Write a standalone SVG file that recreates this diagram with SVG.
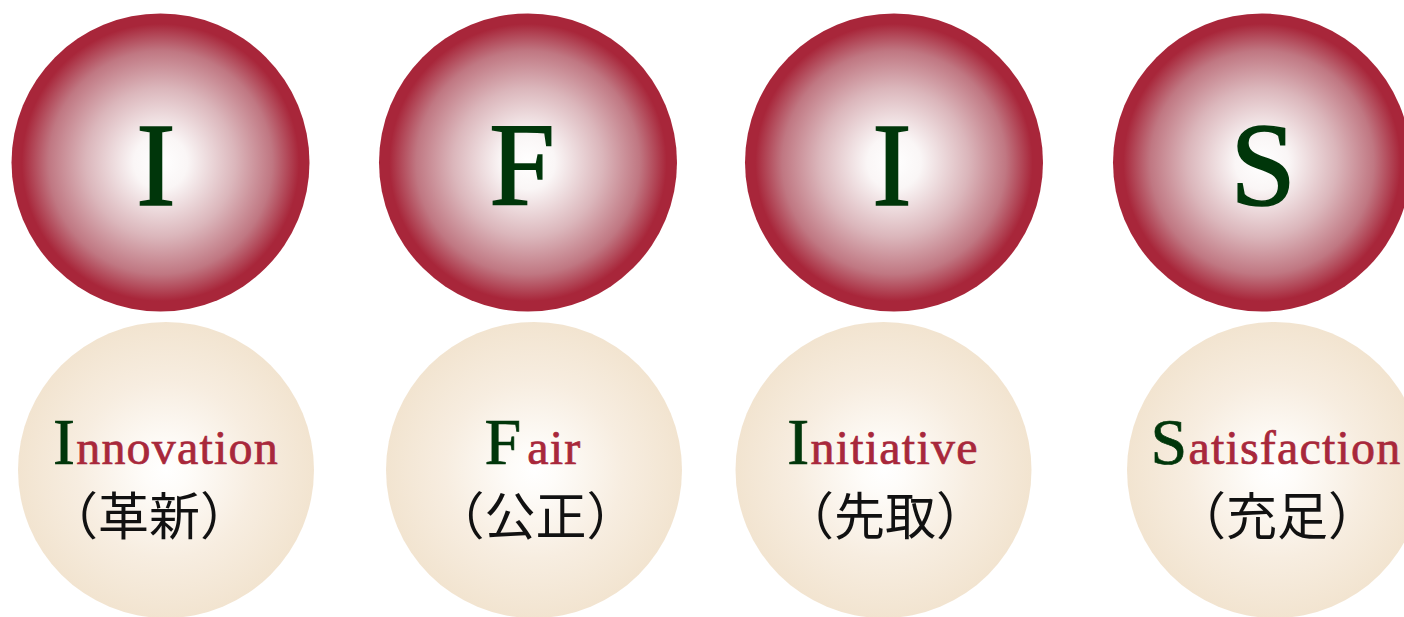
<svg xmlns="http://www.w3.org/2000/svg" width="1404" height="617" viewBox="0 0 1404 617">
<style>
.big{font-family:"Liberation Serif","Times New Roman",serif;font-size:118px;fill:#00360a;stroke:#00360a;stroke-width:1.6px;text-anchor:middle}
.word{font-family:"Liberation Serif","Times New Roman",serif;font-size:48px;fill:#a8283b;stroke:#a8283b;stroke-width:0.7px;text-anchor:middle;letter-spacing:1.2px}
.cap{fill:#00360a;stroke:#00360a;font-size:66px}
.kanji{font-family:"Noto Sans CJK JP","Noto Sans CJK SC",sans-serif;font-size:51px;fill:#111;text-anchor:middle}
</style>
<defs>
<radialGradient id="red" cx="0.5" cy="0.5" r="0.5">
<stop offset="0" stop-color="#ffffff"/>
<stop offset="0.18" stop-color="#faf6f6"/>
<stop offset="0.5" stop-color="#dbb6bb"/>
<stop offset="0.75" stop-color="#c07782"/>
<stop offset="0.93" stop-color="#a8263a"/>
<stop offset="1" stop-color="#a8263a"/>
</radialGradient>
<radialGradient id="beige" cx="0.5" cy="0.5" r="0.5">
<stop offset="0" stop-color="#ffffff"/>
<stop offset="0.15" stop-color="#fefcf9"/>
<stop offset="0.6" stop-color="#f7ede0"/>
<stop offset="1" stop-color="#f2e4d0"/>
</radialGradient>
</defs>
<g id="node-I1"><circle cx="160.5" cy="162.5" r="149" fill="url(#red)"/><text class="big" x="156" y="205">I</text></g>
<g id="node-F"><circle cx="528" cy="162.5" r="149" fill="url(#red)"/><text class="big" x="522" y="205">F</text></g>
<g id="node-I2"><circle cx="894" cy="162.5" r="149" fill="url(#red)"/><text class="big" x="892" y="205">I</text></g>
<g id="node-S"><circle cx="1262" cy="162.5" r="149" fill="url(#red)"/><text class="big" x="1263" y="205">S</text></g>
<g id="node-innovation"><circle cx="166" cy="470" r="148" fill="url(#beige)"/>
<text class="word" x="166" y="464"><tspan class="cap">I</tspan>nnovation</text>
<text class="kanji" x="149" y="535">（革新）</text></g>
<g id="node-fair"><circle cx="534" cy="470" r="148" fill="url(#beige)"/>
<text class="word" x="533" y="464"><tspan class="cap">F</tspan><tspan dx="5">air</tspan></text>
<text class="kanji" x="535.5" y="535">（公正）</text></g>
<g id="node-initiative"><circle cx="883.5" cy="470" r="148" fill="url(#beige)"/>
<text class="word" x="883" y="464"><tspan class="cap">I</tspan>nitiative</text>
<text class="kanji" x="885" y="535">（先取）</text></g>
<g id="node-satisfaction"><circle cx="1275" cy="470" r="148" fill="url(#beige)"/>
<text class="word" x="1276" y="464"><tspan class="cap">S</tspan>atisfaction</text>
<text class="kanji" x="1277" y="535">（充足）</text></g>
<g id="connectors"/>
</svg>
